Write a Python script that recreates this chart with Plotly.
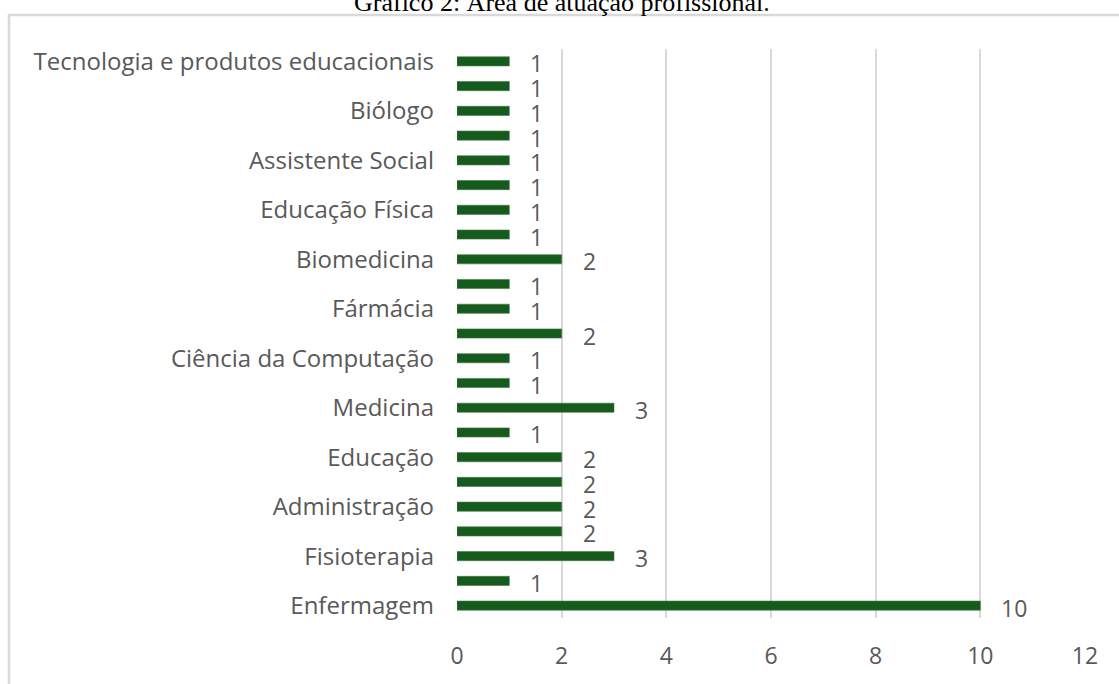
import plotly.graph_objects as go

# bottom to top
labels = ["Enfermagem", "", "Fisioterapia", "", "Administração", "", "Educação", "",
          "Medicina", "", "Ciência da Computação", "", "Fármácia", "", "Biomedicina", "",
          "Educação Física", "", "Assistente Social", "", "Biólogo", "",
          "Tecnologia e produtos educacionais"]
values = [10, 1, 3, 2, 2, 2, 2, 1, 3, 1, 1, 2, 1, 1, 2, 1, 1, 1, 1, 1, 1, 1, 1]
x_ticks = [0, 2, 4, 6, 8, 10, 12]
title = "Gráfico 2: Área de atuação profissional."

pos = list(range(len(values)))
tickvals = [p for p, l in zip(pos, labels) if l]
ticktext = [l for l in labels if l]

GRAY = "#595959"
FONT = "Open Sans"
FS = 23

fig = go.Figure()
fig.add_trace(go.Bar(
    x=values, y=pos, orientation="h", width=0.37,
    marker=dict(color="#175a1e", line=dict(color="#3f7a45", width=0.6)),
    hoverinfo="x+y",
))

for p, v in zip(pos, values):
    fig.add_annotation(x=v, y=p, text=str(v), showarrow=False, xanchor="left",
                       xshift=19, yshift=-2, font=dict(family=FONT, size=FS, color=GRAY))

W, H = 1119, 684
l, r, t, b = 457, 34, 49, 66
pw, ph = W - l - r, H - t - b

def px_to_paper_x(px):
    return (px - l) / pw

def px_to_paper_y(py):
    return (H - b - py) / ph

fig.add_shape(type="rect", xref="paper", yref="paper",
              x0=px_to_paper_x(9), x1=px_to_paper_x(1140),
              y0=px_to_paper_y(720), y1=px_to_paper_y(15),
              line=dict(color="#d9d9d9", width=2.5), fillcolor="rgba(0,0,0,0)", layer="below")

fig.add_annotation(xref="paper", yref="paper", x=px_to_paper_x(562), y=px_to_paper_y(3),
                   text=title, showarrow=False, xanchor="center", yanchor="middle",
                   font=dict(family="Liberation Serif", size=26, color="#000000"))

fig.update_layout(
    width=W, height=H,
    margin=dict(l=l, r=r, t=t, b=b, pad=0),
    plot_bgcolor="white", paper_bgcolor="white",
    showlegend=False,
    xaxis=dict(range=[0, 12], tickvals=x_ticks, showgrid=True, gridcolor="#d9d9d9",
               gridwidth=1.5, zeroline=False, showline=False, ticks="",
               tickfont=dict(family=FONT, size=FS, color=GRAY), ticklabelstandoff=22),
    yaxis=dict(range=[-0.5, len(values) - 0.5], tickvals=tickvals, ticktext=ticktext,
               showgrid=False, zeroline=False, showline=False, ticks="",
               tickfont=dict(family=FONT, size=24, color=GRAY), ticklabelstandoff=22),
)

fig.write_html("out.html")
